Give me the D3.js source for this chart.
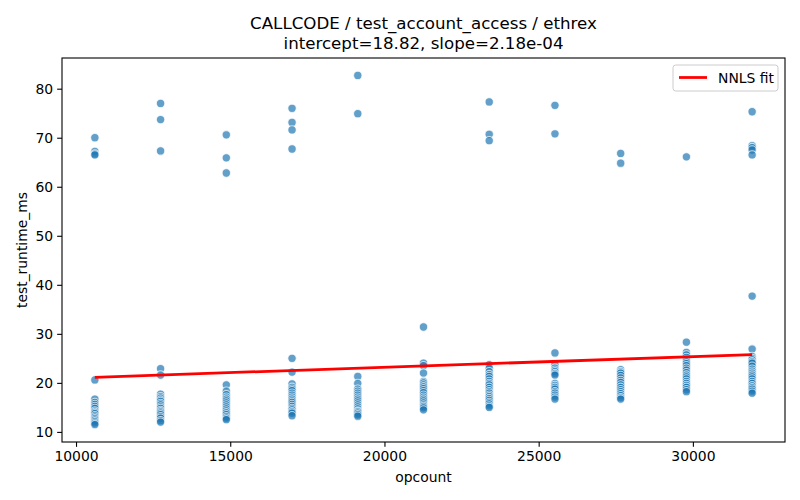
<!DOCTYPE html>
<html>
<head>
<meta charset="utf-8">
<script src="https://cdn.jsdelivr.net/npm/d3@7"></script>
<style>
  body { margin: 0; background: #fff; }
  svg { font-family: "DejaVu Sans", sans-serif; }
</style>
</head>
<body>
<div id="chart"></div>
<script>
// opcount per test run group
const opcounts = [10611, 12742, 14873, 17004, 19135, 21266, 23397, 25528, 27659, 29790, 31921];

// runtimes (ms), one list per opcount
const runtimes = [
    [70.0, 67.2, 66.7, 66.5, 20.6, 16.7, 16.0, 15.6, 15.2, 14.8, 14.3, 14.0, 13.7, 13.3, 13.0, 12.7, 12.4, 12.1, 11.8, 11.5],
    [77.0, 73.7, 67.3, 22.9, 21.6, 17.7, 17.2, 16.9, 16.5, 16.2, 15.8, 15.5, 15.1, 14.8, 14.4, 14.1, 13.8, 13.5, 13.1, 12.8, 12.3, 12.0],
    [70.6, 65.9, 62.8, 19.6, 18.3, 17.6, 17.1, 16.7, 16.3, 15.9, 15.5, 15.1, 14.7, 14.3, 13.9, 13.5, 13.1, 12.8, 12.5],
    [76.0, 73.1, 71.6, 67.7, 25.0, 22.2, 19.8, 19.1, 18.7, 18.4, 17.9, 17.5, 17.1, 16.7, 16.3, 16.0, 15.6, 15.2, 14.8, 14.5, 14.1, 13.8, 13.3],
    [82.7, 74.9, 21.3, 19.9, 18.7, 18.3, 17.9, 17.5, 17.1, 16.7, 16.3, 15.9, 15.5, 15.1, 14.7, 14.3, 14.1, 13.8, 13.5, 13.2],
    [31.4, 24.0, 23.5, 22.0, 20.3, 20.0, 19.6, 19.2, 18.8, 18.4, 18.0, 17.5, 17.1, 16.7, 16.3, 15.9, 15.5, 15.2, 14.9, 14.5],
    [77.3, 70.7, 69.4, 23.7, 23.0, 22.3, 21.7, 21.3, 20.8, 20.3, 19.9, 19.6, 19.1, 18.6, 18.2, 17.9, 17.5, 17.2, 16.8, 16.4, 16.0, 15.7, 15.3, 15.0],
    [76.6, 70.8, 26.1, 23.7, 23.0, 22.6, 22.3, 21.9, 21.6, 19.9, 19.5, 19.1, 18.7, 18.2, 17.9, 17.5, 17.1, 16.7],
    [66.8, 64.8, 22.7, 22.3, 22.0, 21.5, 21.0, 20.5, 20.1, 19.6, 19.1, 18.6, 18.2, 17.8, 17.4, 17.0, 16.7],
    [66.1, 28.3, 26.2, 25.7, 25.2, 24.8, 24.3, 23.9, 23.5, 23.0, 22.6, 22.1, 21.6, 21.2, 20.8, 20.3, 19.9, 19.5, 19.1, 18.6, 18.2],
    [75.3, 68.4, 68.0, 67.5, 66.5, 37.7, 26.9, 25.4, 25.0, 24.7, 24.3, 24.0, 23.4, 22.8, 22.4, 22.0, 21.6, 21.2, 20.8, 20.3, 19.9, 19.4, 19.0, 18.7, 18.3, 17.9]
];

const intercept = 18.82;
const slope = 2.18e-4;

const xTicks = [10000, 15000, 20000, 25000, 30000];
const yTicks = [10, 20, 30, 40, 50, 60, 70, 80];

const titleLines = ['CALLCODE / test_account_access / ethrex', 'intercept=18.82, slope=2.18e-04'];

const width = 800, height = 500;
const margin = { left: 62, top: 58, right: 15, bottom: 58 };

const points = [];
opcounts.forEach((op, i) => runtimes[i].forEach(v => points.push({ x: op, y: v })));

// matplotlib style 5% padding around the data range
function padded(ext) {
    const pad = (ext[1] - ext[0]) * 0.05;
    return [ext[0] - pad, ext[1] + pad];
}

const x = d3.scaleLinear()
    .domain(padded(d3.extent(points, d => d.x)))
    .range([margin.left, width - margin.right]);
const y = d3.scaleLinear()
    .domain(padded(d3.extent(points, d => d.y)))
    .range([height - margin.bottom, margin.top]);

const svg = d3.select('#chart').append('svg')
    .attr('width', width)
    .attr('height', height);

// axes
const xAxis = svg.append('g')
    .attr('transform', `translate(0,${height - margin.bottom})`)
    .call(d3.axisBottom(x).tickValues(xTicks).tickFormat(d3.format('d')).tickSize(4.86).tickPadding(4));
const yAxis = svg.append('g')
    .attr('transform', `translate(${margin.left},0)`)
    .call(d3.axisLeft(y).tickValues(yTicks).tickSize(4.86).tickPadding(4));

[xAxis, yAxis].forEach(g => {
    g.select('.domain').remove();
    g.selectAll('line').attr('stroke', '#000').attr('stroke-width', 1.1);
    g.selectAll('text').attr('font-size', 13.9).attr('fill', '#000').attr('font-family', '"DejaVu Sans", sans-serif');
});

// scatter
svg.append('g')
    .selectAll('circle').data(points)
    .enter()
    .append('circle')
    .attr('cx', d => x(d.x))
    .attr('cy', d => y(d.y))
    .attr('r', 4.17)
    .attr('fill', '#1f77b4')
    .attr('fill-opacity', 0.7)
    .attr('stroke', '#fff')
    .attr('stroke-opacity', 0.7)
    .attr('stroke-width', 1.04);

// fit line
const xr = d3.extent(opcounts);
svg.append('line')
    .attr('x1', x(xr[0]))
    .attr('y1', y(intercept + slope * xr[0]))
    .attr('x2', x(xr[1]))
    .attr('y2', y(intercept + slope * xr[1]))
    .attr('stroke', 'red')
    .attr('stroke-width', 2.78);

// frame
svg.append('rect')
    .attr('x', margin.left)
    .attr('y', margin.top)
    .attr('width', width - margin.left - margin.right)
    .attr('height', height - margin.top - margin.bottom)
    .attr('fill', 'none')
    .attr('stroke', '#000')
    .attr('stroke-width', 1.1);

// legend
const lg = svg.append('g').attr('transform', `translate(${width - margin.right - 7},${margin.top + 7})`);
lg.append('rect')
    .attr('x', -105).attr('y', 0)
    .attr('width', 105).attr('height', 26)
    .attr('rx', 2.8)
    .attr('fill', '#fff').attr('fill-opacity', 0.8)
    .attr('stroke', '#ccc').attr('stroke-width', 1);
lg.append('line')
    .attr('x1', -99).attr('x2', -71)
    .attr('y1', 12.5).attr('y2', 12.5)
    .attr('stroke', 'red').attr('stroke-width', 2.78);
lg.append('text')
    .attr('x', -60).attr('y', 17.5)
    .attr('font-size', 13.9)
    .text('NNLS fit');

// title
const cx = (margin.left + width - margin.right) / 2;
svg.append('g').selectAll('text').data(titleLines)
    .enter()
    .append('text')
    .attr('x', cx)
    .attr('y', (d, i) => 29 + i * 20)
    .attr('text-anchor', 'middle')
    .attr('font-size', 16.67)
    .text(d => d);

// axis labels
svg.append('text')
    .attr('x', cx)
    .attr('y', 482)
    .attr('text-anchor', 'middle')
    .attr('font-size', 13.9)
    .text('opcount');
svg.append('text')
    .attr('transform', `translate(27,${(margin.top + height - margin.bottom) / 2}) rotate(-90)`)
    .attr('text-anchor', 'middle')
    .attr('font-size', 13.9)
    .text('test_runtime_ms');
</script>
</body>
</html>
